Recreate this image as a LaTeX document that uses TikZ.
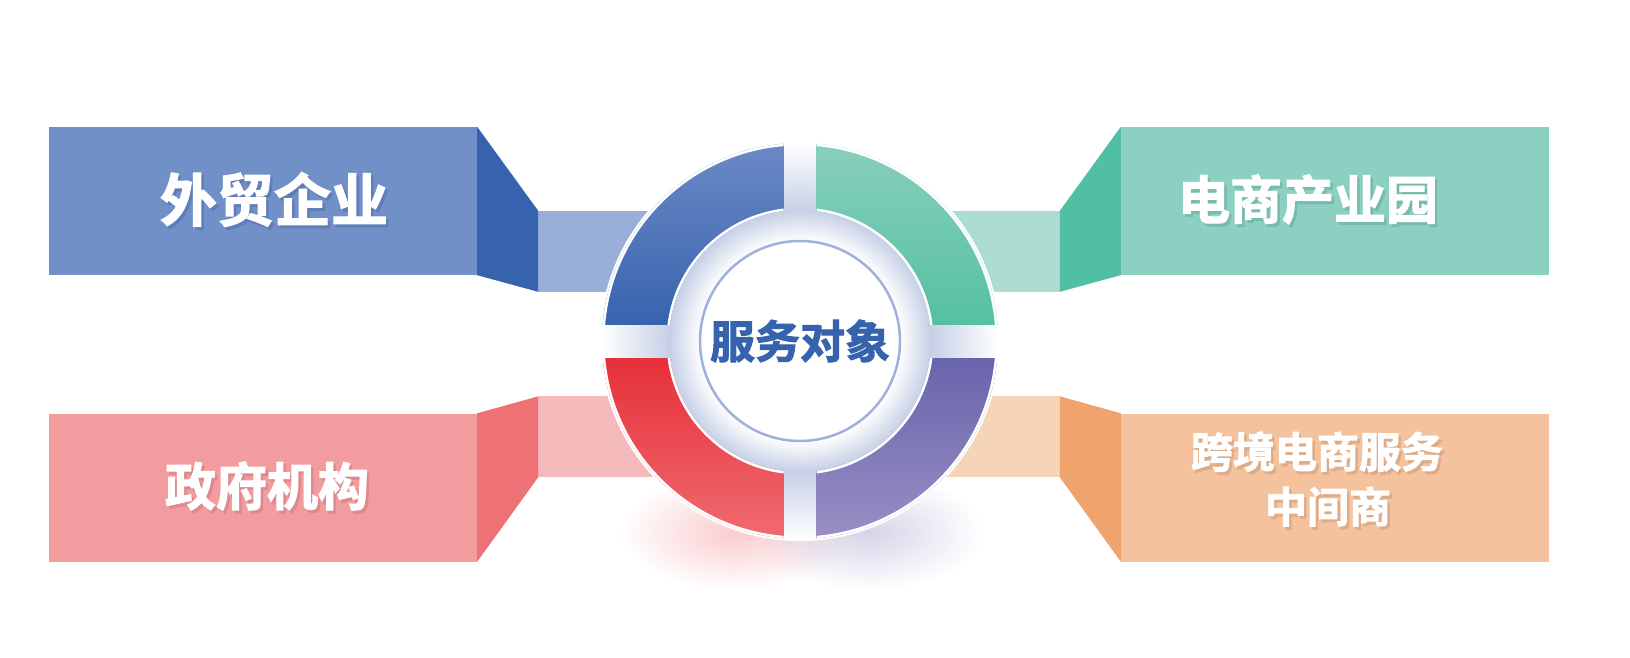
\documentclass[tikz,border=0pt]{standalone}
\usepackage{fontspec}
\newfontfamily\cjk{Noto Sans CJK SC}[BoldFont={Noto Sans CJK SC Bold},BoldFeatures={FakeBold=2.2}]
\usetikzlibrary{positioning,fadings}

\definecolor{tradeBox}{HTML}{7190C8}
\definecolor{tradeFold}{HTML}{3763AE}
\definecolor{tradeStrip}{HTML}{9AAFD8}
\definecolor{tradeShade}{HTML}{5F7DB8}
\definecolor{parkBox}{HTML}{8CD0C1}
\definecolor{parkFold}{HTML}{50BFA3}
\definecolor{parkStrip}{HTML}{ADDDD2}
\definecolor{parkShade}{HTML}{78BBAC}
\definecolor{govBox}{HTML}{F29C9F}
\definecolor{govFold}{HTML}{EE7175}
\definecolor{govStrip}{HTML}{F4B9BB}
\definecolor{govShade}{HTML}{DC8A8E}
\definecolor{agentBox}{HTML}{F4C29C}
\definecolor{agentFold}{HTML}{EFA36D}
\definecolor{agentStrip}{HTML}{F6D4B8}
\definecolor{agentShade}{HTML}{DEAC88}
\definecolor{blueTop}{HTML}{6E8AC6}
\definecolor{blueBot}{HTML}{3764AE}
\definecolor{greenTop}{HTML}{8ACFBE}
\definecolor{greenBot}{HTML}{55C0A1}
\definecolor{redTop}{HTML}{E6303A}
\definecolor{redBot}{HTML}{F06D72}
\definecolor{purpleTop}{HTML}{6864AC}
\definecolor{purpleBot}{HTML}{9C91C6}
\definecolor{ringGlow}{HTML}{C6D0E6}
\definecolor{coreRing}{HTML}{9DB1DC}
\definecolor{coreText}{HTML}{3763AE}

\tikzfading[name=softglow, inner color=transparent!0, outer color=transparent!100]
% white core, tinted band at the ring's inner edge, fading out towards the rim
\pgfdeclareradialshading{ringglow}{\pgfpoint{0bp}{0bp}}{color(0bp)=(white); color(12.6bp)=(white);
    color(16.5bp)=(ringGlow); color(25bp)=(white); color(50bp)=(white)}

% white label with a soft drop shadow behind it
\newcommand\shtext[2]{\leavevmode\rlap{\hspace{2.5pt}\raisebox{-3pt}{\color{#1}#2}}#2}

\begin{document}
\begin{tikzpicture}[x=1pt,y=-1pt,
    box/.style={rectangle,inner sep=0pt,minimum width=428pt,minimum height=148pt},
    lbl/.style={inner sep=0pt,text=white,align=center,
                font=\cjk\bfseries\fontsize{#1}{55}\selectfont},
    lbl/.default=52]

    \useasboundingbox (0,0) rectangle (1630,658);
    \coordinate (hub) at (800,341);

    % strips running in under the ring
    \fill[tradeStrip] (538,211) rectangle (hub |- 0,292);
    \fill[govStrip] (538,396) rectangle (hub |- 0,477);
    \fill[parkStrip] (1060,211) rectangle (hub |- 0,292);
    \fill[agentStrip] (1060,396) rectangle (hub |- 0,477);

    % boxes
    \node[box,fill=tradeBox] (trade) at (263,201) {};
    \node[box,fill=govBox] (gov) at (263,487.5) {};
    \node[box,fill=parkBox] (park) at (1335,201) {};
    \node[box,fill=agentBox] (agent) at (1335,487.5) {};

    % folds
    \fill[tradeFold] (trade.north east) -- ++(61,84) -- ++(0,81) -- (trade.south east) -- cycle;
    \fill[govFold] (gov.north east) -- ++(61,-17) -- ++(0,81) -- (gov.south east) -- cycle;
    \fill[parkFold] (park.north west) -- ++(-61,84) -- ++(0,81) -- (park.south west) -- cycle;
    \fill[agentFold] (agent.north west) -- ++(-61,-17) -- ++(0,81) -- (agent.south west) -- cycle;

    % labels
    \node[lbl=57] (tradeText) at ([xshift=11pt]trade.center) {\shtext{tradeShade}{外贸企业}};
    \node[lbl=51] (govText) at ([xshift=4pt]gov.center) {\shtext{govShade}{政府机构}};
    \node[lbl=52] (parkText) at ([xshift=-27pt]park.center) {\shtext{parkShade}{电商产业园}};
    \node[lbl=42] (agentText) at ([xshift=-18pt,yshift=7pt]agent.center)
        {\shtext{agentShade}{跨境电商服务}\\\hspace*{22pt}\shtext{agentShade}{中间商}};

    % glow under the ring
    \fill[redBot!70,path fading=softglow,fill opacity=0.5] (735,532) ellipse (115 and 58);
    \fill[purpleBot!80,path fading=softglow,fill opacity=0.5] (868,532) ellipse (115 and 58);
    \fill[white] (hub) circle (200);
    \shade[shading=ringglow] (hub) circle (198);

    % ring segments
    \foreach \sx/\sy/\ct/\cb in {-1/-1/blueTop/blueBot,1/-1/greenTop/greenBot,
                                 -1/1/redTop/redBot,1/1/purpleTop/purpleBot}{
        \begin{scope}[even odd rule]
            \clip ({800+\sx*16.5},{341+\sy*17}) rectangle ({800+\sx*205},{341+\sy*205});
            \clip (hub) circle (198) (hub) circle (131);
            \shade[top color=\ct,bottom color=\cb]
                ({800+\sx*16.5},{341+\sy*17}) rectangle ({800+\sx*205},{341+\sy*205});
            \draw[white,line width=5pt] (hub) circle (198) (hub) circle (131);
        \end{scope}
    }

    \node[circle,fill=white,draw=coreRing,line width=2.5pt,minimum size=200pt,inner sep=0pt,
          text=coreText,font=\cjk\bfseries\fontsize{45}{50}\selectfont] (core) at (hub) {服务对象};
\end{tikzpicture}
\end{document}
